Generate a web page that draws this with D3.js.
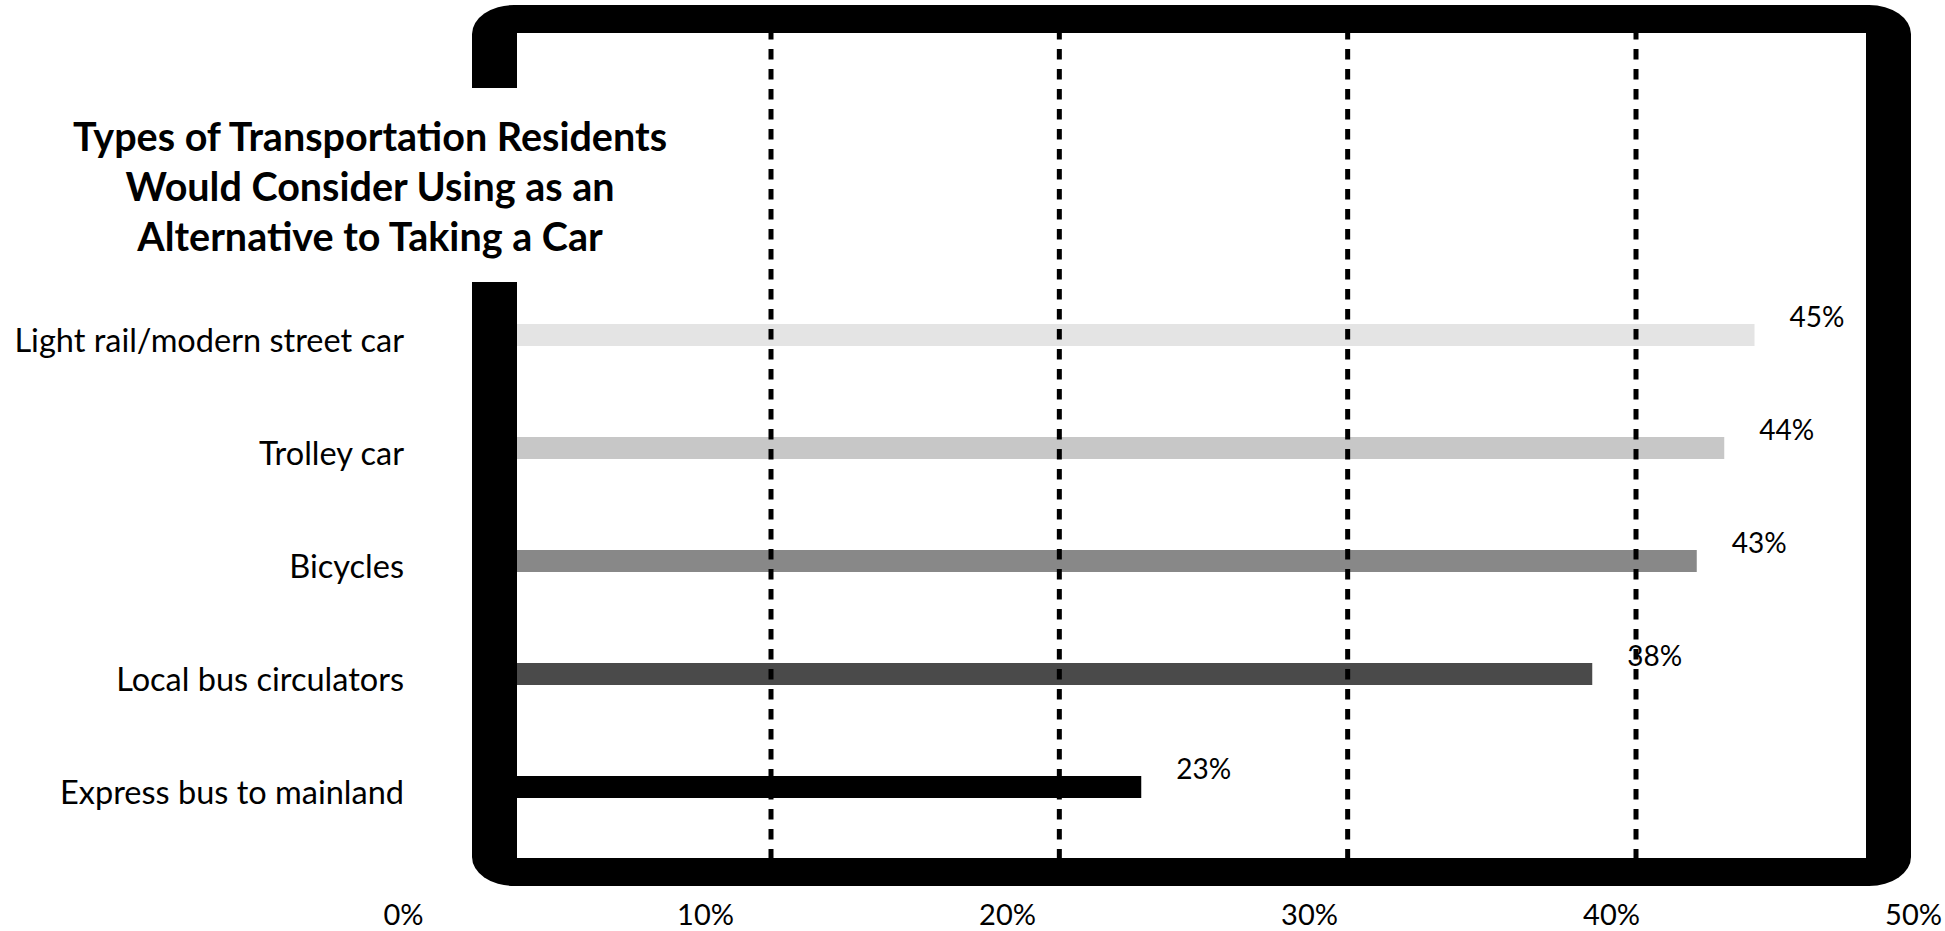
<!DOCTYPE html>
<html><head><meta charset="utf-8">
<script src="https://cdn.jsdelivr.net/npm/d3@7"></script>
<style>html,body{margin:0;padding:0;background:#fff;overflow:hidden}</style>
</head><body><svg id="chart" width="1945" height="931"></svg>
<script>
// ---- data ----
const categories = ["Light rail/modern street car", "Trolley car", "Bicycles", "Local bus circulators", "Express bus to mainland"];
const values = [45.0, 43.9, 42.9, 39.1, 22.7];
const valueLabels = ["45%", "44%", "43%", "38%", "23%"];
const barColors = ["#e4e4e4", "#c7c7c7", "#888888", "#4a4a4a", "#000000"];
const gridValues = [10, 20, 30, 40];
const tickValues = [0, 10, 20, 30, 40, 50];
const titleLines = ["Types of Transportation Residents", "Would Consider Using as an", "Alternative to Taking a Car"];

// ---- layout ----
const svg = d3.select("#chart");
const font = "Lato, 'Open Sans', sans-serif";
const frame = {x: 472, y: 5, w: 1439, h: 881, tx: 45, ty: 28};
const inner = {x: frame.x + frame.tx, y: frame.y + frame.ty, w: frame.w - 2 * frame.tx, h: frame.h - 2 * frame.ty};

const x = d3.scaleLinear().domain([0, 50]).range([inner.x, inner.x + 1375]);
const y = d3.scalePoint().domain(categories).range([335, 787]);
const gridX = d3.scaleLinear().domain([10, 40]).range([771, 1636]);
const tickX = d3.scaleLinear().domain([0, 50]).range([403, 1913]);
const barH = 22;

// frame
svg.append("rect").attr("x", frame.x).attr("y", frame.y).attr("width", frame.w).attr("height", frame.h)
  .attr("rx", 42).attr("ry", 29).attr("fill", "#000");
svg.append("rect").attr("x", inner.x).attr("y", inner.y).attr("width", inner.w).attr("height", inner.h)
  .attr("fill", "#fff");

// bars
const rows = categories.map((c, i) => ({c, v: values[i], lab: valueLabels[i], col: barColors[i]}));
svg.append("g").selectAll("rect").data(rows).join("rect")
  .attr("x", x(0)).attr("y", d => y(d.c) - barH / 2)
  .attr("width", d => x(d.v) - x(0)).attr("height", barH)
  .attr("fill", d => d.col);

// gridlines
svg.append("g").selectAll("line").data(gridValues).join("line")
  .attr("x1", d => gridX(d)).attr("x2", d => gridX(d))
  .attr("y1", inner.y).attr("y2", inner.y + inner.h)
  .attr("stroke", "#000").attr("stroke-width", 5)
  .attr("stroke-dasharray", "10.5 9.5").attr("stroke-dashoffset", 4);

// title background + title
svg.append("rect").attr("x", 40).attr("y", 88).attr("width", 660).attr("height", 194).attr("fill", "#fff");
svg.append("g").selectAll("text").data(titleLines).join("text")
  .attr("x", 370).attr("y", (d, i) => 151 + i * 50)
  .attr("text-anchor", "middle").attr("font-family", font).attr("font-weight", "bold")
  .attr("font-size", 39.5).attr("fill", "#000").text(d => d);

// category labels
svg.append("g").selectAll("text").data(rows).join("text")
  .attr("x", 404).attr("y", d => y(d.c) + 17)
  .attr("text-anchor", "end").attr("font-family", font).attr("font-size", 32.5)
  .attr("fill", "#000").text(d => d.c);

// value labels
svg.append("g").selectAll("text").data(rows).join("text")
  .attr("x", d => x(d.v) + 35).attr("y", d => y(d.c) - 8)
  .attr("font-family", font).attr("font-size", 28).attr("fill", "#000").text(d => d.lab);

// x tick labels
const axis = svg.append("g").attr("transform", "translate(0,925)")
  .call(d3.axisBottom(tickX).tickValues(tickValues).tickSize(0).tickPadding(0).tickFormat(d => d + "%"));
axis.select(".domain").remove();
axis.selectAll("text").attr("font-family", font).attr("font-size", 29).attr("fill", "#000")
  .attr("dy", 0).attr("y", 0);
</script></body></html>
